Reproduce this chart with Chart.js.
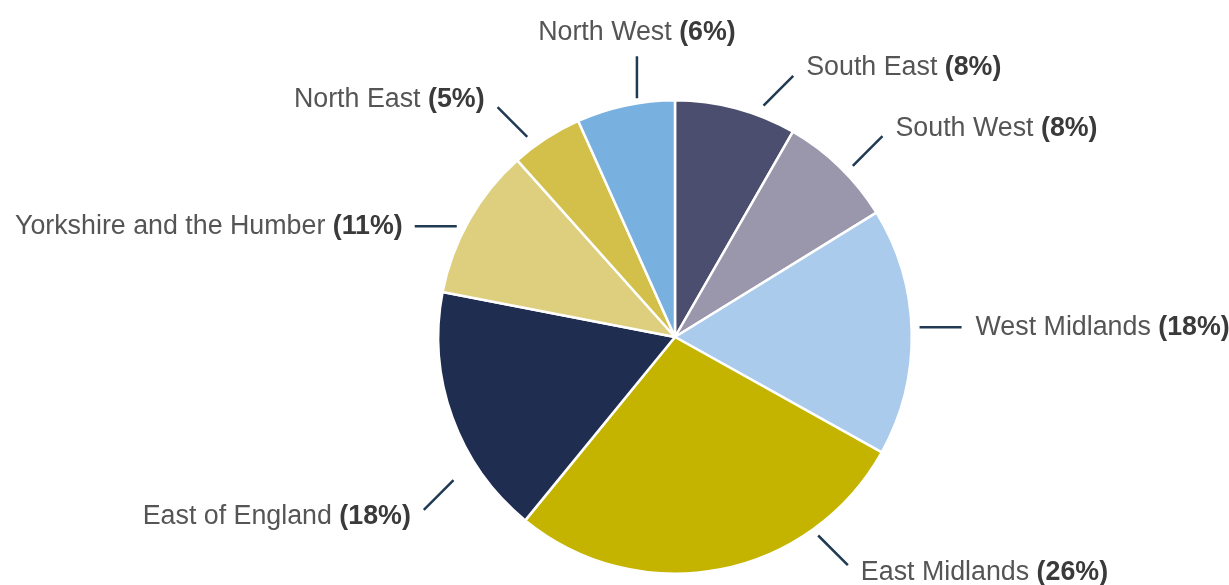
<!DOCTYPE html>
<html>
<head>
<meta charset="utf-8">
<script src="https://cdn.jsdelivr.net/npm/chart.js@4/dist/chart.umd.min.js"></script>
<style>
  html, body { margin: 0; padding: 0; background: #fff; }
  #wrap { width: 1229px; height: 585px; }
</style>
</head>
<body>
<div id="wrap"><canvas id="regionsPie" width="1229" height="585"></canvas></div>
<script>
// regions, clockwise from 12 o'clock
const regions = ['South East', 'South West', 'West Midlands', 'East Midlands',
    'East of England', 'Yorkshire and the Humber', 'North East', 'North West'];
// slice sizes
const shareValues = [8.3, 7.9, 16.9, 27.8, 17.15, 10.35, 4.9, 6.7];
// percentages printed in the labels
const shareLabels = [8, 8, 18, 26, 18, 11, 5, 6];
const sliceColors = ['#4b4e6e', '#9a97ad', '#aacbec', '#c4b400',
    '#1e2d50', '#ddcf7e', '#d3c04a', '#78b0e0'];

const outerLabels = {
    id: 'outerLabels',
    afterDraw(chart, args, opts) {
        const ctx = chart.ctx;
        const meta = chart.getDatasetMeta(0);
        ctx.save();
        meta.data.forEach((arc, i) => {
            const p = arc.getProps(['x', 'y', 'startAngle', 'endAngle', 'outerRadius'], true);
            const nudge = opts.nudge[i] || {};
            const mid = (p.startAngle + p.endAngle) / 2 + (nudge.angle || 0) * Math.PI / 180;
            const r0 = p.outerRadius + opts.gap + (nudge.radius || 0);
            const sx = p.x + Math.cos(mid) * r0;
            const sy = p.y + Math.sin(mid) * r0;

            const deg = ((mid * 180 / Math.PI + 90) % 360 + 360) % 360;
            const fromV = Math.min(deg, 360 - deg, Math.abs(deg - 180));
            const fromH = Math.min(Math.abs(deg - 90), Math.abs(deg - 270));
            const sgx = deg < 180 ? 1 : -1;
            const sgy = (deg < 90 || deg > 270) ? -1 : 1;
            let dx, dy;
            if (fromV < 15) { dx = 0; dy = sgy; }
            else if (fromH < 30) { dx = sgx; dy = 0; }
            else { dx = sgx * Math.SQRT1_2; dy = sgy * Math.SQRT1_2; }

            const ex = sx + dx * opts.lineLength;
            const ey = sy + dy * opts.lineLength;
            ctx.strokeStyle = opts.lineColor;
            ctx.lineWidth = 2.5;
            ctx.beginPath();
            ctx.moveTo(sx, sy);
            ctx.lineTo(ex, ey);
            ctx.stroke();

            const name = regions[i] + ' ';
            const pct = '(' + shareLabels[i] + '%)';
            ctx.font = opts.size + 'px ' + opts.family;
            const wName = ctx.measureText(name).width;
            ctx.font = 'bold ' + opts.size + 'px ' + opts.family;
            const wPct = ctx.measureText(pct).width;
            const total = wName + wPct;

            let left, ty;
            if (dx === 0) {
                left = ex - total / 2;
                ty = ey + dy * 24;
            } else if (dy === 0) {
                left = dx > 0 ? ex + 14 : ex - 12 - total;
                ty = ey;
            } else {
                left = dx > 0 ? ex + 13 : ex - 13 - total;
                ty = ey + (dy > 0 ? 7 : -8);
            }
            ctx.textBaseline = 'middle';
            ctx.textAlign = 'left';
            ctx.font = opts.size + 'px ' + opts.family;
            ctx.fillStyle = '#555555';
            ctx.fillText(name, left, ty);
            ctx.font = 'bold ' + opts.size + 'px ' + opts.family;
            ctx.fillStyle = '#3a3a3a';
            ctx.fillText(pct, left + wName, ty);
        });
        ctx.restore();
    }
};

new Chart(document.getElementById('regionsPie').getContext('2d'), {
    type: 'pie',
    data: {
        labels: regions,
        datasets: [{
            data: shareValues,
            backgroundColor: sliceColors,
            borderColor: '#ffffff',
            borderWidth: 2.5
        }]
    },
    options: {
        responsive: false,
        animation: false,
        layout: { padding: { left: 437, right: 316, top: 99, bottom: 10 } },
        plugins: {
            legend: { display: false },
            tooltip: { enabled: false },
            outerLabels: {
                gap: 8,
                lineLength: 42,
                lineColor: '#1f3a52',
                size: 26.8,
                family: '"Liberation Sans", Arial, sans-serif',
                nudge: {
                    0: { angle: 6, radius: 3 },
                    1: { angle: 2, radius: 2 },
                    2: { angle: -1 },
                    3: { angle: -25 },
                    4: { angle: -13, radius: 19 },
                    5: { angle: -2.7 },
                    6: { angle: -3.5, radius: 4 },
                    7: { angle: 3, radius: -3 }
                }
            }
        }
    },
    plugins: [outerLabels]
});
</script>
</body>
</html>
